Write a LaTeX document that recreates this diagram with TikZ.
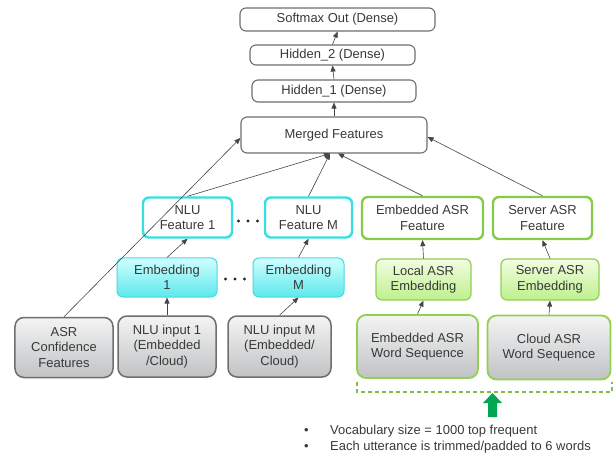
\documentclass[tikz,border=0pt]{standalone}
\usepackage{fontspec}
\setmainfont{Liberation Sans}
\usetikzlibrary{arrows.meta,calc}
\definecolor{txt}{HTML}{383838}
\definecolor{lin}{HTML}{454545}
\definecolor{grayb}{HTML}{6E6E6E}
\definecolor{cyanb}{HTML}{35E0E2}
\definecolor{cyanlb}{HTML}{45DCE0}
\definecolor{greenb}{HTML}{86CC48}
\definecolor{greenlb}{HTML}{92D050}
\definecolor{arrowgreen}{HTML}{00A650}
\tikzset{
  base/.style={rounded corners=6bp, inner sep=0pt, align=center, text=txt,
    font=\fontsize{13}{15.5}\selectfont},
  dense/.style={base, draw=grayb, line width=1.1bp, fill=white},
  nlufeat/.style={base, draw=cyanb, line width=2.4bp, fill=white},
  asrfeat/.style={base, draw=greenb, line width=2.4bp, fill=white},
  cyanemb/.style={base, draw=cyanlb, line width=1bp, top color=cyan!18, bottom color={rgb,255:red,92;green,232;blue,236}},
  greenemb/.style={base, draw=greenlb, line width=1.2bp, top color={rgb,255:red,242;green,253;blue,226}, bottom color={rgb,255:red,190;green,240;blue,140}},
  grayin/.style={base, rounded corners=9bp, draw=grayb, line width=1.5bp, top color={rgb,255:red,244;green,244;blue,244}, bottom color={rgb,255:red,192;green,194;blue,196}},
  greenin/.style={base, rounded corners=9bp, draw=greenlb, line width=1.8bp, top color={rgb,255:red,244;green,244;blue,244}, bottom color={rgb,255:red,192;green,194;blue,196}},
  conn/.style={draw=lin, line width=0.6bp, -{Triangle[length=6bp,width=5bp]}},
  bul/.style={anchor=base west, inner sep=0pt, text=txt, font=\fontsize{13}{15.5}\selectfont},
}
\begin{document}
\begin{tikzpicture}[x=1bp,y=-1bp]
\useasboundingbox (0,0) rectangle (613,455);
% top stack
\node[dense, minimum width=195bp, minimum height=23bp] (soft) at (337.5,19.5) {Softmax Out (Dense)};
\node[dense, minimum width=165bp, minimum height=20bp] (h2) at (332.5,55) {Hidden\_2 (Dense)};
\node[dense, minimum width=164bp, minimum height=22bp] (h1) at (334,91) {Hidden\_1 (Dense)};
\node[dense, minimum width=186bp, minimum height=36bp] (merged) at (334,135) {Merged Features};
% feature row
\node[nlufeat, minimum width=89bp, minimum height=40bp] (nluf1) at (187.5,217.5) {NLU\\Feature 1};
\node[nlufeat, minimum width=87bp, minimum height=40bp] (nlufM) at (308.5,217.5) {NLU\\Feature M};
\node[asrfeat, minimum width=121bp, minimum height=42bp] (easrf) at (422.5,218) {Embedded ASR\\Feature};
\node[asrfeat, minimum width=99bp, minimum height=42bp] (sasrf) at (542.5,218) {Server ASR\\Feature};
% embedding row
\node[cyanemb, minimum width=100bp, minimum height=39bp] (emb1) at (167,277.5) {Embedding\\1};
\node[cyanemb, minimum width=91bp, minimum height=39bp] (embM) at (298.5,277.5) {Embedding\\M};
\node[greenemb, minimum width=95bp, minimum height=41bp] (lemb) at (423.5,279.5) {Local ASR\\Embedding};
\node[greenemb, minimum width=98bp, minimum height=41bp] (semb) at (550,279.5) {Server ASR\\Embedding};
% input row
\node[grayin, minimum width=98bp, minimum height=60bp] (asrc) at (64,347.5) {ASR\\Confidence\\Features};
\node[grayin, minimum width=98bp, minimum height=61bp] (nin1) at (167,346.5) {NLU input 1\\(Embedded\\/Cloud)};
\node[grayin, minimum width=103bp, minimum height=61bp] (ninM) at (279.5,346.5) {NLU input M\\(Embedded/\\Cloud)};
\node[greenin, minimum width=121bp, minimum height=63bp] (ews) at (417.5,346.5) {Embedded ASR\\Word Sequence};
\node[greenin, minimum width=123bp, minimum height=64bp] (cws) at (549,347.5) {Cloud ASR\\Word Sequence};
% dots
\foreach \x in {238.5,248,257.5} \fill[black!85] (\x,221) circle (1.7bp);
\foreach \x in {225.5,235,244.5} \fill[black!85] (\x,279) circle (1.7bp);
% connectors
\draw[conn] (h1.north) -- (h2.south);
\draw[conn] (h2.north) -- (soft.south);
\draw[conn] (merged.north) -- (h1.south);
\draw[conn] (asrc.north) -- ($(merged.west)+(0,3)$);
\draw[conn] (nluf1.north) -- ($(merged.south)+(-4,0)$);
\draw[conn] (nlufM.north) -- ($(merged.south)+(-4,0)$);
\draw[conn] (easrf.north) -- ($(merged.south)+(4,0)$);
\draw[conn] (sasrf.north) -- ($(merged.east)+(0,2)$);
\draw[conn] (emb1.north) -- (nluf1.south);
\draw[conn] (embM.north) -- (nlufM.south);
\draw[conn] (nin1.north) -- (emb1.south);
\draw[conn] (ninM.north) -- (embM.south);
\draw[conn] (lemb.north) -- (easrf.south);
\draw[conn] (ews.north) -- (lemb.south);
\draw[conn] (semb.north) -- (sasrf.south);
\draw[conn] (cws.north) -- (semb.south);
% dashed bracket
\draw[greenlb!90!black, line width=1.2bp, dash pattern=on 4bp off 3bp] (357,382) -- (357,392) -- (612,392) -- (612,382);
% green block arrow
\fill[arrowgreen] (488,417) -- (488,403) -- (483,403) -- (492.5,393) -- (502,403) -- (497,403) -- (497,417) -- cycle;
% bullets
\node[bul] (b1) at (304,434.5) {\makebox[26bp][l]{•}Vocabulary size = 1000 top frequent};
\node[bul] (b2) at (304,450.5) {\makebox[26bp][l]{•}Each utterance is trimmed/padded to 6 words};
\end{tikzpicture}
\end{document}
